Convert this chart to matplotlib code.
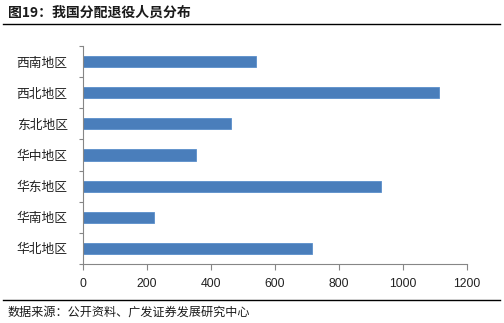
import matplotlib
matplotlib.use("Agg")
import matplotlib.pyplot as plt
from matplotlib.lines import Line2D

plt.rcParams['font.family'] = ['Noto Sans CJK SC', 'DejaVu Sans']

regions = ["华北地区", "华南地区", "华东地区", "华中地区", "东北地区", "西北地区", "西南地区"]
values = [716, 222, 930, 353, 462, 1111, 540]
xticks = [0, 200, 400, 600, 800, 1000, 1200]

title = "图19：我国分配退役人员分布"
source = "数据来源：公开资料、广发证券发展研究中心"

W, H = 504, 323
fig = plt.figure(figsize=(W / 100, H / 100), dpi=100)
fig.patch.set_facecolor("white")

ax = fig.add_axes([83 / W, 1 - 264 / H, (467 - 83) / W, (264 - 46) / H])
ypos = list(range(len(regions)))
ax.barh(ypos, values, height=0.36, color="#4A7EBB", edgecolor="#5B8FCB", linewidth=0.6)

ax.set_xlim(0, 1200)
ax.set_ylim(-0.5, len(regions) - 0.5)
ax.set_xticks(xticks)
ax.set_xticklabels([str(t) for t in xticks], fontsize=8.8, color="#222222",
                   family=["Liberation Sans", "DejaVu Sans"])
ax.set_yticks(ypos)
ax.set_yticklabels(regions, fontsize=9.2, color="#222222")
ax.set_yticks([i - 0.5 for i in range(len(regions) + 1)], minor=True)

ax.tick_params(axis="y", which="major", length=0, pad=11)
ax.tick_params(axis="y", which="minor", length=3, color="#868686", width=0.8)
ax.tick_params(axis="x", which="major", length=4, color="#868686", width=0.8, pad=6)

for side in ("top", "right"):
    ax.spines[side].set_visible(False)
for side in ("left", "bottom"):
    ax.spines[side].set_color("#868686")
    ax.spines[side].set_linewidth(0.8)

# header and footer
fig.text(8 / W, 1 - 13 / H, title, fontsize=10, fontweight="bold", color="#1a1a1a", va="center")
fig.add_artist(Line2D([3 / W, 500 / W], [1 - 24 / H, 1 - 24 / H], color="black", linewidth=1.0))
fig.add_artist(Line2D([3 / W, 500 / W], [1 - 300 / H, 1 - 300 / H], color="black", linewidth=1.0))
fig.text(8 / W, 1 - 312 / H, source, fontsize=8.7, color="#1a1a1a", va="center")

fig.savefig("out.png", dpi=100, facecolor="white")
